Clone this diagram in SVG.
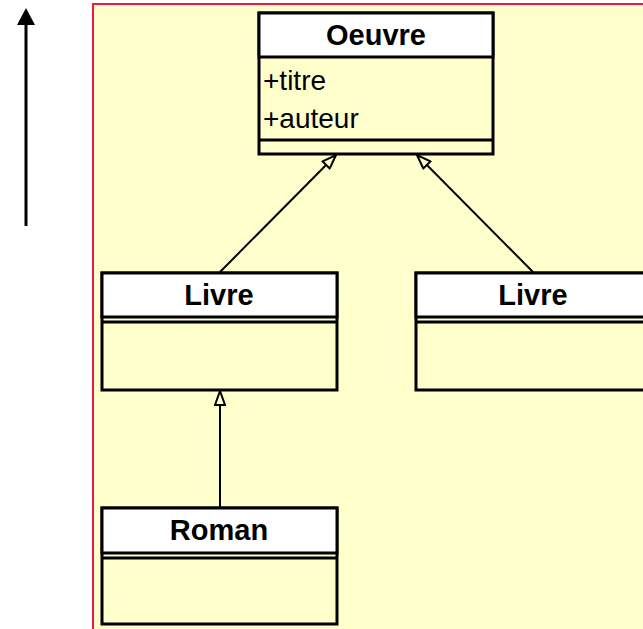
<svg xmlns="http://www.w3.org/2000/svg" width="643" height="629" viewBox="0 0 643 629">
<style>
.box{fill:#FFFFCC;stroke:#000;stroke-width:3}
.hdr{fill:#FFFFFF;stroke:#000;stroke-width:3}
.title{font-family:"Liberation Sans",Arial,sans-serif;font-weight:bold;font-size:29px;text-anchor:middle;fill:#000}
.attr{font-family:"Liberation Sans",Arial,sans-serif;font-size:28px;fill:#000}
.conn{stroke:#000;stroke-width:2;fill:none}
</style>
<defs>
<marker id="gen" viewBox="0 0 16 12" refX="15" refY="6" markerWidth="16" markerHeight="12" orient="auto" markerUnits="userSpaceOnUse">
<path d="M1,1 L15,6 L1,11 Z" fill="#FFFFCC" stroke="#000" stroke-width="2"/>
</marker>
</defs>
<rect x="93" y="4" width="600" height="700" fill="#FFFFCC" stroke="#EE1840" stroke-width="2"/>
<g id="axis">
<line x1="26" y1="24" x2="26" y2="226" stroke="#000" stroke-width="3"/>
<path d="M26,8 L35,25 L17,25 Z" fill="#000"/>
</g>
<g id="connectors">
<line class="conn" x1="220" y1="272" x2="336" y2="155" marker-end="url(#gen)"/>
<line class="conn" x1="533" y1="272" x2="417" y2="155" marker-end="url(#gen)"/>
<line class="conn" x1="220" y1="507" x2="220" y2="391" marker-end="url(#gen)"/>
</g>
<g id="oeuvre">
<rect class="box" x="259" y="13" width="234" height="141"/>
<rect class="hdr" x="259" y="13" width="234" height="44"/>
<line x1="259" y1="140" x2="493" y2="140" stroke="#000" stroke-width="3"/>
<text class="title" x="376" y="45">Oeuvre</text>
<text class="attr" x="263" y="90">+titre</text>
<text class="attr" x="263" y="128">+auteur</text>
</g>
<g id="livre1">
<rect class="box" x="102" y="273" width="235" height="117"/>
<rect class="hdr" x="102" y="273" width="235" height="44"/>
<line x1="102" y1="322" x2="337" y2="322" stroke="#000" stroke-width="3"/>
<text class="title" x="219" y="305">Livre</text>
</g>
<g id="livre2">
<rect class="box" x="416" y="273" width="300" height="117"/>
<rect class="hdr" x="416" y="273" width="300" height="44"/>
<line x1="416" y1="322" x2="716" y2="322" stroke="#000" stroke-width="3"/>
<text class="title" x="533" y="305">Livre</text>
</g>
<g id="roman">
<rect class="box" x="102" y="508" width="235" height="116"/>
<rect class="hdr" x="102" y="508" width="235" height="45"/>
<line x1="102" y1="558" x2="337" y2="558" stroke="#000" stroke-width="3"/>
<text class="title" x="219" y="540">Roman</text>
</g>
</svg>
